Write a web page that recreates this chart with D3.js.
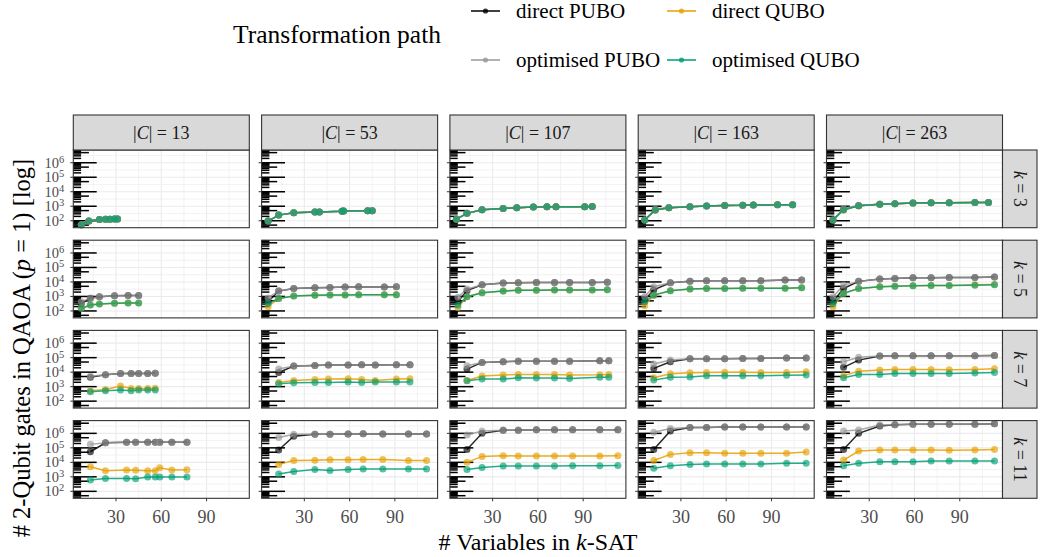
<!DOCTYPE html>
<html>
<head>
<meta charset="utf-8">
<script src="https://cdn.jsdelivr.net/npm/d3@7"></script>
<style>
body { margin: 0; background: #fff; }
</style>
</head>
<body>
<div id="chart"></div>
<script>
// facets
const clauseCounts = [13, 53, 107, 163, 263];
const kValues = [3, 5, 7, 11];
const seriesNames = ["direct PUBO", "direct QUBO", "optimised PUBO", "optimised QUBO"];
const seriesColors = ["#000000", "#E69F00", "#999999", "#009E73"];
const xTicks = [30, 60, 90];
const xMinor = [15, 45, 75, 105];
const yTicks = [1e2, 1e3, 1e4, 1e5, 1e6];
const yTickExp = ["2", "3", "4", "5", "6"];

// number of variables, one array per |C| column
const varsK3 = [
    [7, 12, 19, 23, 26, 29, 31],
    [6, 13, 23, 37, 40, 55, 56, 72, 75],
    [6, 13, 23, 37, 46, 57, 66, 72, 91, 96],
    [6, 13, 22, 36, 47, 59, 71, 78, 94, 104],
    [6, 13, 23, 37, 47, 59, 71, 83, 100, 109]
];
const directPuboK3 = [
    [52, 95, 120, 126, 129, 132, 132],
    [95, 245, 355, 395, 405, 460, 470, 485, 492],
    [129, 324, 575, 708, 794, 871, 933, 935, 940, 945],
    [112, 560, 794, 933, 1023, 1148, 1150, 1202, 1259, 1260],
    [112, 620, 1072, 1349, 1479, 1660, 1738, 1740, 1820, 1825]
];
const optimisedPuboK3 = [
    [52, 95, 120, 126, 129, 132, 132],
    [95, 245, 355, 395, 405, 460, 470, 485, 492],
    [129, 324, 575, 708, 794, 871, 933, 935, 940, 945],
    [112, 640, 830, 950, 1040, 1160, 1160, 1210, 1265, 1265],
    [112, 710, 1150, 1380, 1500, 1670, 1745, 1750, 1830, 1835]
];
const directQuboK3 = [
    [52, 95, 120, 126, 129, 132, 132],
    [95, 245, 355, 395, 405, 460, 470, 485, 492],
    [129, 324, 575, 708, 794, 871, 933, 935, 940, 945],
    [112, 550, 794, 933, 1023, 1148, 1150, 1202, 1259, 1260],
    [112, 550, 1072, 1349, 1479, 1660, 1738, 1740, 1820, 1825]
];
const optimisedQuboK3 = [
    [52, 95, 120, 126, 129, 132, 132],
    [95, 245, 355, 395, 405, 460, 470, 485, 492],
    [129, 324, 575, 708, 794, 871, 933, 935, 940, 945],
    [112, 550, 794, 933, 1023, 1148, 1150, 1202, 1259, 1260],
    [112, 550, 1072, 1349, 1479, 1660, 1738, 1740, 1820, 1825]
];

const varsK5 = [
    [7, 13, 19, 29, 38, 45],
    [6, 13, 23, 37, 47, 57, 66, 83, 91],
    [7, 13, 23, 37, 47, 59, 71, 81, 96, 106],
    [6, 12, 23, 36, 47, 59, 71, 83, 99, 110],
    [6, 13, 23, 37, 47, 59, 71, 83, 100, 113]
];
const directPuboK5 = [
    [316, 741, 955, 1122, 1175, 1175],
    [427, 2344, 3548, 3981, 4169, 4467, 4677, 4571, 4677],
    [427, 2512, 6457, 8318, 8913, 9333, 9333, 9333, 9333, 9550],
    [562, 2818, 8710, 10965, 12023, 12023, 12100, 12100, 13490, 13490],
    [427, 3548, 10965, 15849, 17378, 19498, 19498, 20417, 20417, 21878]
];
const optimisedPuboK5 = [
    [437, 741, 955, 1122, 1175, 1175],
    [794, 2344, 3548, 3981, 4169, 4467, 4677, 4571, 4677],
    [891, 3236, 6457, 8318, 8913, 9333, 9333, 9333, 9333, 9550],
    [1000, 4677, 8710, 10965, 12023, 12023, 12100, 12100, 13490, 13490],
    [955, 6026, 10965, 15849, 17378, 19498, 19498, 20417, 20417, 21878]
];
const directQuboK5 = [
    [151, 257, 302, 340, 348, 350],
    [195, 724, 1072, 1230, 1259, 1259, 1318, 1318, 1318],
    [174, 955, 1820, 2344, 2630, 2630, 2754, 2754, 2754, 2884],
    [229, 1230, 2455, 3236, 3548, 3548, 3715, 3715, 3715, 3981],
    [195, 1622, 3548, 4677, 5129, 5495, 5754, 5754, 6300, 6800]
];
const optimisedQuboK5 = [
    [151, 257, 302, 340, 348, 350],
    [331, 724, 1072, 1230, 1259, 1259, 1318, 1318, 1318],
    [251, 955, 1820, 2344, 2630, 2630, 2754, 2754, 2754, 2884],
    [427, 1230, 2455, 3236, 3548, 3548, 3715, 3715, 3715, 3981],
    [331, 1622, 3548, 4677, 5129, 5495, 5754, 5754, 6026, 6457]
];

const varsK7 = [
    [13, 23, 33, 40, 45, 51, 56],
    [13, 23, 37, 46, 59, 68, 77, 91, 100],
    [13, 23, 37, 47, 59, 71, 81, 101, 107],
    [12, 23, 36, 47, 59, 71, 83, 100, 113],
    [13, 23, 37, 47, 59, 71, 83, 100, 113]
];
const directPuboK7 = [
    [4467, 6607, 8128, 7943, 8128, 8128, 8318],
    [9550, 26303, 28840, 30903, 30903, 32359, 30903, 32359, 32359],
    [16218, 46774, 52481, 57544, 57544, 57544, 57544, 61660, 61660],
    [18197, 52481, 83176, 83176, 83176, 89125, 89125, 93325, 93325],
    [21380, 67608, 128825, 134896, 134896, 134896, 134896, 134896, 141254]
];
const optimisedPuboK7 = [
    [5248, 6607, 8128, 7943, 8128, 8128, 8318],
    [16218, 26303, 28840, 30903, 30903, 32359, 30903, 32359, 32359],
    [27542, 46774, 52481, 57544, 57544, 57544, 57544, 61660, 61660],
    [36308, 67608, 83176, 83176, 83176, 89125, 89125, 93325, 93325],
    [52481, 104713, 128825, 134896, 134896, 134896, 134896, 134896, 141254]
];
const directQuboK7 = [
    [525, 646, 1096, 759, 741, 759, 776],
    [1950, 2692, 3162, 3311, 3467, 3162, 2692, 3311, 3467],
    [2692, 5370, 6310, 6918, 6918, 6918, 6310, 6607, 6918],
    [4074, 7762, 9120, 9550, 10000, 10000, 9550, 9550, 10715],
    [5623, 11749, 13804, 15488, 15488, 15488, 14791, 15488, 16982]
];
const optimisedQuboK7 = [
    [447, 525, 589, 525, 589, 589, 589],
    [1585, 1862, 1950, 1950, 2089, 1950, 2089, 2089, 2089],
    [2570, 3311, 3311, 4074, 3890, 3890, 3715, 4365, 4365],
    [2818, 4365, 4571, 5623, 5623, 5623, 5623, 6026, 6310],
    [4074, 6918, 6918, 8128, 8128, 8128, 8128, 8710, 9550]
];

const varsK11 = [
    [13, 23, 37, 43, 51, 56, 59, 67, 77],
    [13, 23, 37, 47, 59, 69, 82, 99, 111],
    [13, 23, 37, 47, 59, 71, 83, 101, 113],
    [12, 23, 36, 47, 59, 71, 83, 100, 113],
    [13, 23, 37, 47, 59, 71, 83, 100, 113]
];
const directPuboK11 = [
    [53703, 223872, 239883, 239883, 239883, 239883, 239883, 239883, 239883],
    [70795, 630957, 851138, 851138, 891251, 933254, 891251, 891251, 891251],
    [77625, 1000000, 1659587, 1659587, 1778279, 1778279, 1778279, 1778279, 1778279],
    [77625, 1445440, 2570396, 2570396, 2691535, 2691535, 2691535, 2691535, 2691535],
    [77625, 1000000, 3162278, 3981072, 4168694, 4168694, 4168694, 4168694, 4570882]
];
const optimisedPuboK11 = [
    [173780, 223872, 239883, 239883, 239883, 239883, 239883, 239883, 239883],
    [524807, 851138, 851138, 851138, 891251, 933254, 891251, 891251, 891251],
    [758578, 1445440, 1659587, 1659587, 1778279, 1778279, 1778279, 1778279, 1778279],
    [1174898, 2187762, 2570396, 2570396, 2691535, 2691535, 2691535, 2691535, 2691535],
    [1445440, 1698244, 3715352, 3981072, 4168694, 4168694, 4168694, 4168694, 4570882]
];
const directQuboK11 = [
    [5012, 2630, 2951, 2818, 2630, 2630, 4266, 2951, 3090],
    [7244, 13490, 14125, 15136, 15136, 15849, 15849, 13490, 13490],
    [10000, 25704, 28840, 26915, 26915, 26915, 26915, 26915, 28840],
    [13490, 35481, 45709, 45709, 41687, 41687, 41687, 41687, 51286],
    [14454, 60256, 70795, 70795, 70795, 70795, 67608, 70795, 77625]
];
const optimisedQuboK11 = [
    [603, 776, 776, 741, 977, 977, 977, 977, 977],
    [1549, 2344, 3236, 2754, 3236, 3467, 3467, 3467, 3467],
    [3236, 4467, 5495, 5495, 5495, 5495, 5888, 5888, 6166],
    [3981, 5888, 7244, 7586, 7586, 7586, 7586, 8511, 8511],
    [5888, 8511, 10965, 10965, 10965, 12303, 12303, 12303, 12303]
];

const varsByK = [varsK3, varsK5, varsK7, varsK11];
const seriesByK = [
    [directPuboK3, directQuboK3, optimisedPuboK3, optimisedQuboK3],
    [directPuboK5, directQuboK5, optimisedPuboK5, optimisedQuboK5],
    [directPuboK7, directQuboK7, optimisedPuboK7, optimisedQuboK7],
    [directPuboK11, directQuboK11, optimisedPuboK11, optimisedQuboK11]
];

// layout
const W = 1040, H = 557;
const panelLeft0 = 73.3, panelStepX = 188.3, panelW = 176;
const panelTop0 = 150, panelStepY = 90.2, panelH = 77.7;
const stripH = 35, stripW = 34.5;

const svg = d3.select("#chart").append("svg")
    .attr("width", W)
    .attr("height", H)
    .attr("font-family", "'Liberation Serif', 'DejaVu Serif', serif");

const xScale = d3.scaleLinear().domain([1.7, 118.3]).range([0, panelW]);
const yScale = d3.scaleLog().domain([Math.pow(10, 1.52), Math.pow(10, 6.88)]).range([panelH, 0]);

// log ticks 1..9 x 10^n inside the range
let logTicks = [];
for (let e = 1; e <= 6; e++) {
    for (let m = 1; m <= 9; m++) {
        let v = m * Math.pow(10, e);
        if (v >= yScale.domain()[0] && v <= yScale.domain()[1]) logTicks.push({v: v, m: m});
    }
}
const yMinor = [2.5, 3.5, 4.5, 5.5, 6.5].map(e => Math.pow(10, e));

const line = d3.line()
    .x(d => xScale(d[0]))
    .y(d => yScale(d[1]));

kValues.forEach((k, r) => {
    clauseCounts.forEach((c, ci) => {
        let px = panelLeft0 + ci * panelStepX;
        let py = panelTop0 + r * panelStepY;
        let g = svg.append("g").attr("transform", "translate(" + px + "," + py + ")");

        g.append("rect")
            .attr("width", panelW).attr("height", panelH)
            .attr("fill", "#fff");

        // grid
        g.selectAll(".gy-minor").data(yMinor).enter().append("line")
            .attr("x1", 0).attr("x2", panelW)
            .attr("y1", d => yScale(d)).attr("y2", d => yScale(d))
            .attr("stroke", "#EBEBEB").attr("stroke-width", 0.6);
        g.selectAll(".gx-minor").data(xMinor).enter().append("line")
            .attr("y1", 0).attr("y2", panelH)
            .attr("x1", d => xScale(d)).attr("x2", d => xScale(d))
            .attr("stroke", "#EBEBEB").attr("stroke-width", 0.6);
        g.selectAll(".gy").data(yTicks).enter().append("line")
            .attr("x1", 0).attr("x2", panelW)
            .attr("y1", d => yScale(d)).attr("y2", d => yScale(d))
            .attr("stroke", "#EBEBEB").attr("stroke-width", 1.1);
        g.selectAll(".gx").data(xTicks).enter().append("line")
            .attr("y1", 0).attr("y2", panelH)
            .attr("x1", d => xScale(d)).attr("x2", d => xScale(d))
            .attr("stroke", "#EBEBEB").attr("stroke-width", 1.1);

        // log ticks annotation
        g.selectAll(".logtick").data(logTicks).enter().append("line")
            .attr("x1", 0)
            .attr("x2", d => d.m === 1 ? 23.4 : (d.m === 5 ? 15.6 : 7.8))
            .attr("y1", d => yScale(d.v)).attr("y2", d => yScale(d.v))
            .attr("stroke", "#000").attr("stroke-width", 1.5);

        // data
        let xs = varsByK[r][ci];
        let data = seriesByK[r].map((s, si) => ({
            name: seriesNames[si],
            color: seriesColors[si],
            pts: xs.map((x, i) => [x, s[ci][i]])
        }));
        g.selectAll(".series-line").data(data).enter().append("path")
            .attr("d", d => line(d.pts))
            .attr("fill", "none")
            .attr("stroke", d => d.color)
            .attr("stroke-opacity", 0.85)
            .attr("stroke-width", 1.5);
        data.forEach(d => {
            g.selectAll(null).data(d.pts).enter().append("circle")
                .attr("cx", p => xScale(p[0]))
                .attr("cy", p => yScale(p[1]))
                .attr("r", 3.5)
                .attr("fill", d.color)
                .attr("fill-opacity", 0.65);
        });

        g.append("rect")
            .attr("width", panelW).attr("height", panelH)
            .attr("fill", "none").attr("stroke", "#333").attr("stroke-width", 1.1);

        // y axis on every panel
        g.selectAll(".ytick").data(yTicks).enter().append("line")
            .attr("x1", -3).attr("x2", 0)
            .attr("y1", d => yScale(d)).attr("y2", d => yScale(d))
            .attr("stroke", "#333").attr("stroke-width", 1);
        if (ci === 0) {
            let lab = g.selectAll(".ylab").data(yTicks).enter().append("text")
                .attr("x", -9)
                .attr("y", d => yScale(d) + 5)
                .attr("text-anchor", "end")
                .attr("fill", "#4D4D4D")
                .style("font-size", "14.5px");
            lab.append("tspan").text("10");
            lab.append("tspan").attr("dy", -5).style("font-size", "10.5px").text((d, i) => yTickExp[i]);
        }

        // x axis on bottom row
        if (r === kValues.length - 1) {
            g.selectAll(".xtick").data(xTicks).enter().append("line")
                .attr("x1", d => xScale(d)).attr("x2", d => xScale(d))
                .attr("y1", panelH).attr("y2", panelH + 3)
                .attr("stroke", "#333").attr("stroke-width", 1);
            g.selectAll(".xlab").data(xTicks).enter().append("text")
                .attr("x", d => xScale(d))
                .attr("y", panelH + 25)
                .attr("text-anchor", "middle")
                .attr("fill", "#4D4D4D")
                .style("font-size", "18px")
                .text(d => d);
        }

        // top strips
        if (r === 0) {
            g.append("rect")
                .attr("y", -stripH).attr("width", panelW).attr("height", stripH)
                .attr("fill", "#D9D9D9").attr("stroke", "#333").attr("stroke-width", 1.1);
            let t = g.append("text")
                .attr("x", panelW / 2).attr("y", -stripH / 2 + 6)
                .attr("text-anchor", "middle")
                .attr("fill", "#1A1A1A")
                .style("font-size", "18px");
            t.append("tspan").text("|");
            t.append("tspan").style("font-style", "italic").text("C");
            t.append("tspan").text("| = " + c);
        }

        // right strips
        if (ci === clauseCounts.length - 1) {
            g.append("rect")
                .attr("x", panelW).attr("width", stripW).attr("height", panelH)
                .attr("fill", "#D9D9D9").attr("stroke", "#333").attr("stroke-width", 1.1);
            let t = g.append("text")
                .attr("transform", "translate(" + (panelW + stripW / 2 - 6) + "," + (panelH / 2) + ") rotate(90)")
                .attr("text-anchor", "middle")
                .attr("fill", "#1A1A1A")
                .style("font-size", "18px");
            t.append("tspan").style("font-style", "italic").text("k");
            t.append("tspan").text(" = " + k);
        }
    });
});

// axis titles
let xt = svg.append("text")
    .attr("x", 538).attr("y", 550)
    .attr("text-anchor", "middle")
    .attr("fill", "#000")
    .style("font-size", "24px");
xt.append("tspan").text("# Variables in ");
xt.append("tspan").style("font-style", "italic").text("k");
xt.append("tspan").text("-SAT");

let yt = svg.append("text")
    .attr("transform", "translate(30,348) rotate(-90)")
    .attr("text-anchor", "middle")
    .attr("fill", "#000")
    .style("font-size", "24.5px");
yt.append("tspan").text("# 2-Qubit gates in QAOA (");
yt.append("tspan").style("font-style", "italic").text("p");
yt.append("tspan").text(" = 1) [log]");

// legend
const legend = svg.append("g");
legend.append("text")
    .attr("x", 233).attr("y", 43)
    .style("font-size", "25.5px")
    .text("Transformation path");
const legendX = [471, 667];
const legendY = [11, 60];
seriesNames.forEach((name, i) => {
    let lx = legendX[i % 2], ly = legendY[Math.floor(i / 2)];
    let lg = legend.append("g").attr("transform", "translate(" + lx + "," + ly + ")");
    lg.append("line")
        .attr("x1", 0).attr("x2", 29).attr("y1", 0).attr("y2", 0)
        .attr("stroke", seriesColors[i]).attr("stroke-width", 1.5);
    lg.append("circle")
        .attr("cx", 14.5).attr("cy", 0).attr("r", 2.6)
        .attr("fill", seriesColors[i]).attr("fill-opacity", 0.8);
    lg.append("text")
        .attr("x", 45).attr("y", 6.5)
        .style("font-size", "21px")
        .text(name);
});
</script>
</body>
</html>
